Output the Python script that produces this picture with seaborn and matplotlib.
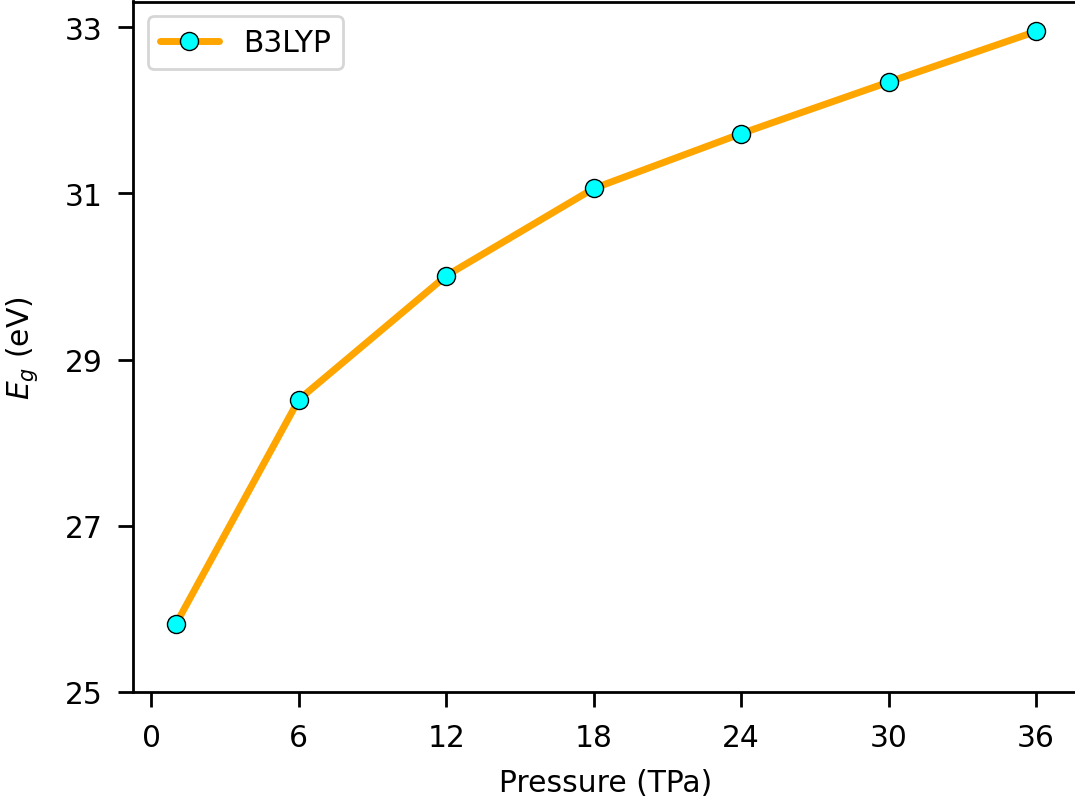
import matplotlib
matplotlib.use("Agg")
import matplotlib.pyplot as plt
import seaborn as sns
import pandas as pd

pressure = [1, 6, 12, 18, 24, 30, 36]
band_gap = [25.82, 28.52, 30.01, 31.06, 31.72, 32.34, 32.95]
method = "B3LYP"
x_ticks = [0, 6, 12, 18, 24, 30, 36]
y_ticks = [25, 27, 29, 31, 33]

df = pd.DataFrame({"Pressure": pressure, "Eg": band_gap})

sns.set_style("ticks", {"axes.edgecolor": "black", "text.color": "black",
                        "xtick.color": "black", "ytick.color": "black",
                        "axes.labelcolor": "black"})
plt.rcParams['font.family'] = ['DejaVu Sans']

fig = plt.figure(figsize=(5.375, 4.015), dpi=200)
ax = fig.add_axes([133 / 1075, 110 / 803, (1079 - 133) / 1075, 690.5 / 803])

sns.lineplot(data=df, x="Pressure", y="Eg", ax=ax, color="orange", linewidth=2.5,
             marker="o", markersize=6.5, markerfacecolor="cyan",
             markeredgecolor="black", markeredgewidth=0.5, label=method)

ax.set_xlim(-0.75, 37.75)
ax.set_ylim(25, 33.31)
ax.set_xticks(x_ticks)
ax.set_yticks(y_ticks)
ax.tick_params(labelsize=10.7, width=1.0, length=5.5, pad=5.5, colors="black")
for s in ax.spines.values():
    s.set_linewidth(1.0)
    s.set_visible(True)
ax.set_xlabel("Pressure (TPa)", fontsize=10.7, labelpad=6)
ax.set_ylabel(r"$E_g$ (eV)", fontsize=10.7, labelpad=9)
ax.legend(loc="upper left", fontsize=10.7, frameon=True)

fig.savefig("out.png", dpi=200)
